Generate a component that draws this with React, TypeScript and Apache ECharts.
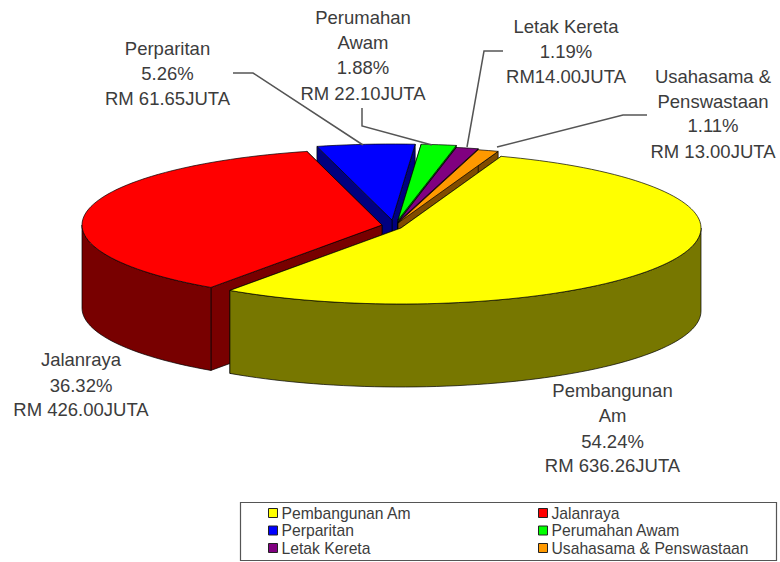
import React, { useEffect, useRef } from "react";
import * as echarts from "echarts";

const names = ["Pembangunan Am", "Jalanraya", "Perparitan", "Perumahan Awam", "Letak Kereta", "Usahasama & Penswastaan"];
const values = [636.26, 426.0, 61.65, 22.1, 14.0, 13.0];
const topColors = ["#FFFF00", "#FF0000", "#0000FF", "#00FF00", "#800080", "#FF9900"];
const wallColors = ["#777700", "#780000", "#000080", "#008000", "#400040", "#804C00"];
const apexes = [[401, 228], [382, 225], [392, 220], [398, 220], [398, 222], [398, 223]];
const drawOrder = [2, 3, 4, 5, 1, 0];

const labelLines = [
  ["Pembangunan", "Am", "54.24%", "RM 636.26JUTA"],
  ["Jalanraya", "36.32%", "RM 426.00JUTA"],
  ["Perparitan", "5.26%", "RM 61.65JUTA"],
  ["Perumahan", "Awam", "1.88%", "RM 22.10JUTA"],
  ["Letak Kereta", "1.19%", "RM14.00JUTA"],
  ["Usahasama &", "Penswastaan", "1.11%", "RM 13.00JUTA"],
];
const labelCentres = [
  [612.5, [390, 415, 441, 465]],
  [81, [359, 385, 409]],
  [167.5, [48, 73, 98]],
  [363, [17, 42, 67, 93]],
  [566, [26, 51, 76]],
  [713, [76, 101, 125, 151]],
] as [number, number[]][];
const leaders = [
  [[233, 73], [253, 73], [363, 145]],
  [[362, 108], [362, 126], [432, 145]],
  [[503, 51], [484, 51], [467, 147]],
  [[647, 115], [623, 115], [497, 147]],
];

const A = 300;
const B = 76;
const DEPTH = 83;
const START_DEG = 19.5;
const total = values.reduce((s, v) => s + v, 0);

const font = "'Liberation Sans', Arial, sans-serif";
const edge = { stroke: "#000", lineWidth: 0.7 };

function rim(i: number, deg: number, drop = 0) {
  const r = (deg * Math.PI) / 180;
  return [apexes[i][0] + A * Math.sin(r), apexes[i][1] - B * Math.cos(r) + drop];
}
function arc(i: number, d0: number, d1: number, drop = 0) {
  const pts: number[][] = [];
  const n = Math.max(2, Math.ceil((d1 - d0) / 2));
  for (let k = 0; k <= n; k++) pts.push(rim(i, d0 + ((d1 - d0) * k) / n, drop));
  return pts;
}
function sliceRange(i: number) {
  const before = values.slice(0, i).reduce((s, v) => s + v, 0);
  return [START_DEG + (before / total) * 360, START_DEG + ((before + values[i]) / total) * 360];
}
function radialFace(i: number, deg: number) {
  const a = apexes[i];
  return [a, rim(i, deg), rim(i, deg, DEPTH), [a[0], a[1] + DEPTH]];
}

function makeRender(i: number) {
  return () => {
    const [d0, d1] = sliceRange(i);
    const children: any[] = [];
    const wall = { fill: wallColors[i], ...edge };
    children.push({ type: "polygon", shape: { points: radialFace(i, d1) }, style: wall });
    children.push({ type: "polygon", shape: { points: radialFace(i, d0) }, style: wall });
    const f0 = Math.max(d0, 90);
    const f1 = Math.min(d1, 270);
    if (f1 > f0) {
      children.push({
        type: "polygon",
        shape: { points: [...arc(i, f0, f1), ...arc(i, f0, f1, DEPTH).reverse()] },
        style: wall,
      });
    }
    children.push({
      type: "polygon",
      shape: { points: [apexes[i], ...arc(i, d0, d1)] },
      style: { fill: topColors[i], ...edge },
    });
    return { type: "group", children };
  };
}

export default function App() {
  const ref = useRef<HTMLDivElement>(null);
  useEffect(() => {
    document.body.style.margin = "0";
    const chart = echarts.init(ref.current!, undefined, { renderer: "svg" });
    const texts: any[] = [];
    labelLines.forEach((lines, i) => {
      const [cx, ys] = labelCentres[i];
      lines.forEach((t, k) => {
        texts.push({
          type: "text",
          x: cx,
          y: ys[k],
          style: {
            text: t,
            fill: "#3c3c3c",
            font: `18.5px ${font}`,
            textAlign: "center",
            textVerticalAlign: "middle",
          },
          z: 5,
        });
      });
    });
    const lines = leaders.map((pts) => ({
      type: "polyline",
      shape: { points: pts },
      style: { stroke: "#555", lineWidth: 1.5, fill: "none" },
      z: 6,
    }));
    const legendBase = {
      orient: "vertical",
      top: 505,
      itemWidth: 9,
      itemHeight: 9,
      itemGap: 1.5,
      icon: "rect",
      selectedMode: false,
      padding: 0,
      textStyle: { fontFamily: font, fontSize: 15.7, lineHeight: 16, color: "#3c3c3c", padding: [0, 0, 0, -1] },
      itemStyle: { borderColor: "#222", borderWidth: 1 },
    };
    chart.setOption({
      animation: false,
      backgroundColor: "#fff",
      legend: [
        { ...legendBase, left: 268, data: [names[0], names[2], names[4]] },
        { ...legendBase, left: 538, data: [names[1], names[3], names[5]] },
      ],
      series: drawOrder.map((i) => ({
        type: "custom",
        name: names[i],
        coordinateSystem: "none",
        silent: true,
        itemStyle: { color: topColors[i] },
        data: [[values[i]]],
        renderItem: makeRender(i),
      })),
      graphic: [
        {
          type: "rect",
          shape: { x: 240.5, y: 502.5, width: 536, height: 58 },
          style: { fill: "#fff", stroke: "#555", lineWidth: 1.2 },
          z: -1,
        },
        ...lines,
        ...texts,
      ],
    });
    return () => chart.dispose();
  }, []);
  return <div ref={ref} style={{ width: 780, height: 562 }} />;
}
